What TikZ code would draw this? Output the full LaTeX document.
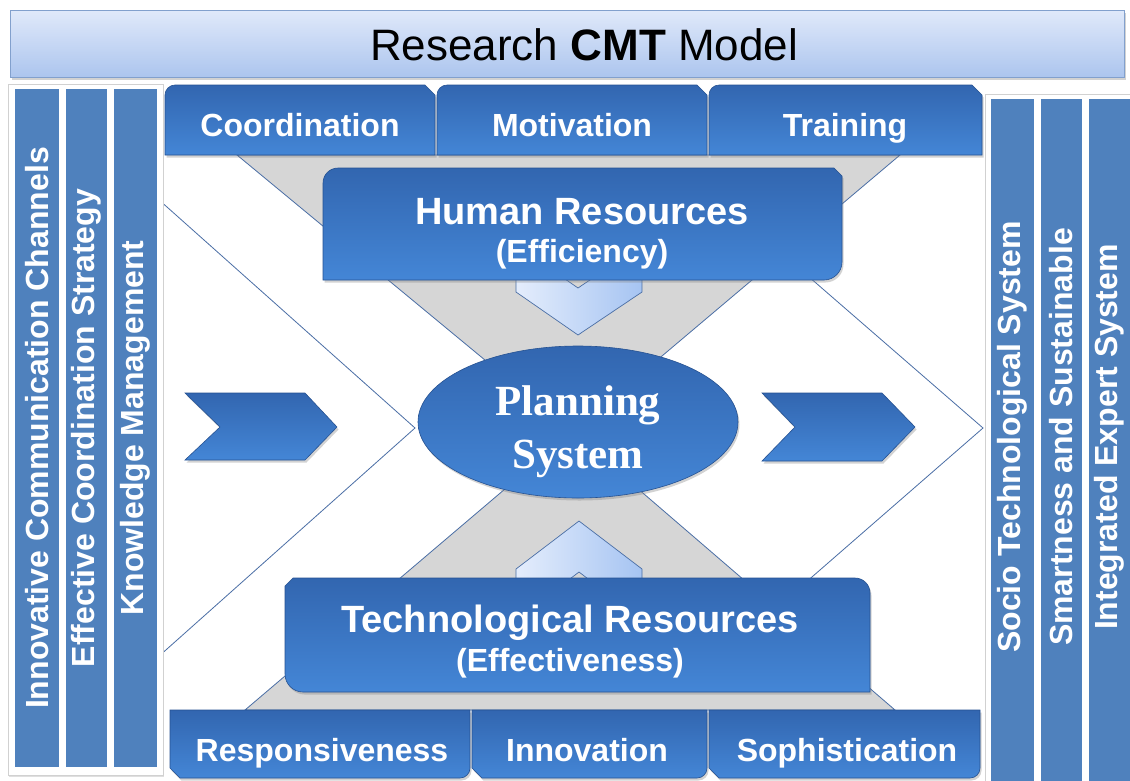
\documentclass[tikz,border=0pt]{standalone}
\usepackage{fontspec}
\setmainfont{Liberation Sans}
\newfontfamily\serifbf{Liberation Serif}
\usetikzlibrary{shapes.geometric,shadows}
\definecolor{barblue}{RGB}{79,129,189}
\definecolor{boxtop}{RGB}{50,102,176}
\definecolor{boxbot}{RGB}{68,134,214}
\definecolor{boxline}{RGB}{38,82,146}
\definecolor{edgeblue}{RGB}{74,110,165}
\definecolor{hgray}{RGB}{214,214,214}
\definecolor{ltleft}{RGB}{228,237,252}
\definecolor{ltright}{RGB}{166,196,242}
\definecolor{titletop}{RGB}{224,233,250}
\definecolor{titlebot}{RGB}{172,197,238}
\definecolor{titleline}{RGB}{130,160,205}
\begin{document}
\begin{tikzpicture}[x=1pt,y=-1pt,
  shad/.style={drop shadow={opacity=0.35,shadow xshift=1.5pt,shadow yshift=-2.5pt}},
  bluebox/.style={top color=boxtop,bottom color=boxbot,draw=boxline,line width=0.6pt,shad},
  lightarrow/.style={left color=ltleft,right color=ltright,draw=edgeblue,line width=0.7pt},
  edge/.style={draw=edgeblue,line width=0.8pt},
  tabtext/.style={text=white,font=\fontsize{32}{38}\selectfont\bfseries,anchor=base,inner sep=0pt},
  bigtext/.style={text=white,font=\fontsize{38}{44}\selectfont\bfseries,anchor=base,inner sep=0pt},
  bartext/.style={text=white,font=\fontsize{32}{38}\selectfont\bfseries,rotate=90,inner sep=0pt},
  sidebar/.style={fill=barblue,draw=white,line width=1.2pt},
  panel/.style={fill=white,draw=black!18,line width=0.6pt,drop shadow={opacity=0.25,shadow xshift=1pt,shadow yshift=-2pt}}
]
\useasboundingbox (0,0) rectangle (1130,780);
\fill[white] (0,0) rectangle (1130,780);

% title
\path[top color=titletop,bottom color=titlebot,draw=titleline,line width=0.8pt,shad] (10,10) rectangle (1124,77);
\node[font=\fontsize{44}{50}\selectfont,anchor=base,inner sep=0pt] (title) at (584,60) {Research \textbf{CMT} Model};

% big chevron outlines
\draw[edge] (158,199) -- (415,428) -- (158,657);
\draw[edge] (801,270) -- (983,428) -- (797,590);

% grey bowtie
\path[fill=hgray,edge] (237,155) -- (900,155) -- (572,432) -- cycle;
\path[fill=hgray,edge] (572,432) -- (245,710) -- (895,710) -- cycle;

% light arrows
\path[lightarrow] (516,245) -- (578,288) -- (642,245) -- (642,292) -- (578,335) -- (516,292) -- cycle;
\path[lightarrow] (516,569) -- (579,521) -- (642,569) -- (642,620) -- (579,572) -- (516,620) -- cycle;

% small blue arrows
\path[bluebox] (185,393) -- (305,393) -- (337,427) -- (305,460) -- (185,460) -- (220,427) -- cycle;
\path[bluebox] (762,393) -- (882,393) -- (915,427) -- (882,461) -- (762,461) -- (795,427) -- cycle;

% top tabs
\path[bluebox] (165,155) -- (165,95) arc[start angle=180,end angle=270,radius=10] -- (425,85) -- (435,95) -- (435,155) -- cycle;
\node[tabtext] (coord) at (300,136) {Coordination};
\path[bluebox] (437,155) -- (437,95) arc[start angle=180,end angle=270,radius=10] -- (697,85) -- (707,95) -- (707,155) -- cycle;
\node[tabtext] (motiv) at (572,136) {Motivation};
\path[bluebox] (709,155) -- (709,95) arc[start angle=180,end angle=270,radius=10] -- (972,85) -- (982,95) -- (982,155) -- cycle;
\node[tabtext] (train) at (845,136) {Training};

% human resources box
\path[bluebox] (323,280) -- (323,183) arc[start angle=180,end angle=270,radius=15] -- (834,168) -- (842,176) -- (842,262) arc[start angle=0,end angle=90,radius=18] -- cycle;
\node[bigtext] (hr) at (582,224) {Human Resources};
\node[tabtext] (hreff) at (582,262) {(Efficiency)};

% planning system
\node[ellipse,bluebox,minimum width=320pt,minimum height=152pt,inner sep=0pt] (ps) at (578,422) {};
\node[text=white,font=\fontsize{43}{53}\selectfont\serifbf\bfseries,align=center,inner sep=0pt] (pstext) at (578,431.5) {Planning\\System};

% technological resources box
\path[bluebox] (285,586) -- (293,578) -- (855,578) arc[start angle=270,end angle=360,radius=15] -- (870,692) -- (303,692) arc[start angle=90,end angle=180,radius=18] -- cycle;
\node[bigtext] (tr) at (570,632) {Technological Resources};
\node[tabtext] (treff) at (570,671) {(Effectiveness)};

% bottom tabs
\path[bluebox] (170,710) -- (470,710) -- (470,768) arc[start angle=0,end angle=90,radius=10] -- (180,778) -- (170,768) -- cycle;
\node[tabtext] (resp) at (322,761) {Responsiveness};
\path[bluebox] (472,710) -- (707,710) -- (707,768) arc[start angle=0,end angle=90,radius=10] -- (482,778) -- (472,768) -- cycle;
\node[tabtext] (innov) at (587,761) {Innovation};
\path[bluebox] (709,710) -- (980,710) -- (980,768) arc[start angle=0,end angle=90,radius=10] -- (719,778) -- (709,768) -- cycle;
\node[tabtext] (soph) at (847,761) {Sophistication};

% left panel
\path[panel] (8,84) rectangle (163,775);
\path[sidebar] (14,88) rectangle (60,768);
\path[sidebar] (65,88) rectangle (108,768);
\path[sidebar] (113,88) rectangle (158,768);
\node[bartext] (l1) at (37,428) {Innovative Communication Channels};
\node[bartext] (l2) at (86.5,428) {Effective Coordination Strategy};
\node[bartext] (l3) at (135.5,428) {Knowledge Management};

% right panel
\path[panel] (985,94) rectangle (1134,784);
\path[sidebar] (990,98) rectangle (1035,782);
\path[sidebar] (1040,98) rectangle (1083,782);
\path[sidebar] (1088,98) rectangle (1132,782);
\node[bartext] (r1) at (1012.5,437) {Socio Technological System};
\node[bartext] (r2) at (1061.5,437) {Smartness and Sustainable};
\node[bartext] (r3) at (1109,437) {Integrated Expert System};
\end{tikzpicture}
\end{document}
